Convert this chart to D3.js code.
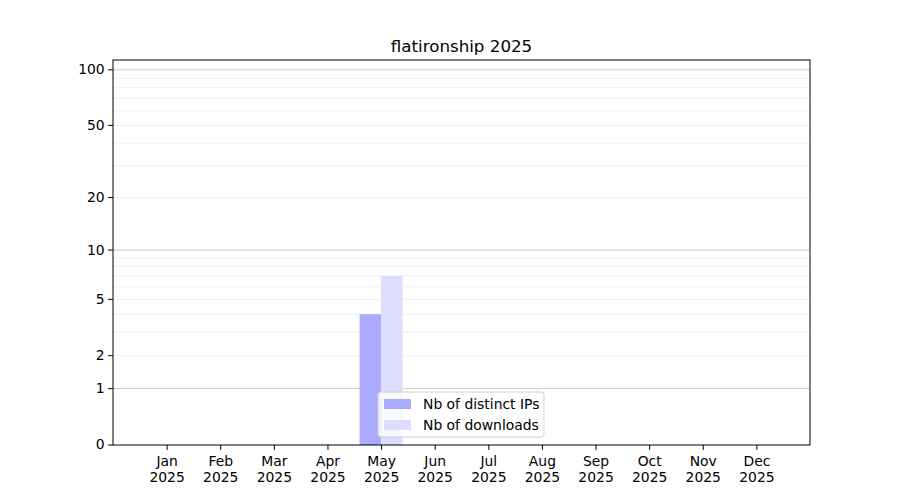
<!DOCTYPE html>
<html>
<head>
<meta charset="utf-8">
<script src="https://cdn.jsdelivr.net/npm/d3@7"></script>
<style>
	body { margin: 0; background: #fff; }
	text { font-family: 'DejaVu Sans', sans-serif; fill: #000; }
	.axis path, .axis line { stroke: #000; stroke-width: 1; }
	.axis text { font-size: 13.9px; }
</style>
</head>
<body>
<script>
// data
var months = ['Jan', 'Feb', 'Mar', 'Apr', 'May', 'Jun', 'Jul', 'Aug', 'Sep', 'Oct', 'Nov', 'Dec'];
var year = '2025';
var distinctIPs = [0, 0, 0, 0, 4, 0, 0, 0, 0, 0, 0, 0];
var downloads = [0, 0, 0, 0, 7, 0, 0, 0, 0, 0, 0, 0];
var yTicks = [0, 1, 2, 5, 10, 20, 50, 100];
var majorGrid = [1, 10, 100];
var minorGrid = [2, 3, 4, 5, 6, 7, 8, 9, 20, 30, 40, 50, 60, 70, 80, 90];
var yMax = 113;
var title = 'flatironship 2025';

var width = 900,
	height = 500,
	margin = { top: 60, right: 90, bottom: 55, left: 113 };

var svg = d3.select('body').append('svg')
	.attr('width', width)
	.attr('height', height);

width = width - margin.left - margin.right;
height = height - margin.top - margin.bottom;

// months sit on integer positions, one unit of padding each side
var xScale = d3.scaleLinear().domain([-1, months.length]).range([0, width]);
// log(1 + x) style y axis
var yScale = d3.scaleLog().domain([1, yMax + 1]).range([height, 0]);
function y(v) { return yScale(v + 1); }

var barW = 0.4;

var g = svg.append('g')
	.attr('transform', 'translate(' + margin.left + ',' + margin.top + ')');

// gridlines
g.selectAll('.minor')
	.data(minorGrid)
	.enter().append('line')
	.attr('x1', 0).attr('x2', width)
	.attr('y1', y).attr('y2', y)
	.attr('stroke', '#ebebeb')
	.attr('stroke-width', 0.8);

g.selectAll('.major')
	.data(majorGrid)
	.enter().append('line')
	.attr('x1', 0).attr('x2', width)
	.attr('y1', y).attr('y2', y)
	.attr('stroke', '#cccccc')
	.attr('stroke-width', 1);

// bars
g.selectAll('.bar-ip')
	.data(distinctIPs)
	.enter().append('rect')
	.attr('x', function(d, i) { return xScale(i - barW); })
	.attr('y', function(d) { return y(d); })
	.attr('width', xScale(barW) - xScale(0))
	.attr('height', function(d) { return height - y(d); })
	.attr('fill', '#aaaaff');

g.selectAll('.bar-dl')
	.data(downloads)
	.enter().append('rect')
	.attr('x', function(d, i) { return xScale(i); })
	.attr('y', function(d) { return y(d); })
	.attr('width', xScale(barW) - xScale(0))
	.attr('height', function(d) { return height - y(d); })
	.attr('fill', '#ddddff');

// x axis, two line labels (month / year)
var xAxis = d3.axisBottom(xScale)
	.tickValues(d3.range(months.length))
	.tickSize(4.9)
	.tickFormat('');

var xg = g.append('g')
	.attr('class', 'axis')
	.attr('transform', 'translate(0,' + height + ')')
	.call(xAxis);
xg.select('.domain').remove();

xg.selectAll('.tick').each(function(d) {
	var t = d3.select(this).append('text')
		.attr('text-anchor', 'middle')
		.attr('y', 21);
	t.append('tspan').attr('x', 0).text(months[d]);
	t.append('tspan').attr('x', 0).attr('dy', 15.8).text(year);
});

// y axis, only the picked tick values
var yg = g.append('g').attr('class', 'axis');
yg.selectAll('.tick')
	.data(yTicks)
	.enter().append('g')
	.attr('class', 'tick')
	.attr('transform', function(d) { return 'translate(0,' + y(d) + ')'; })
	.each(function(d) {
		var t = d3.select(this);
		t.append('line').attr('x1', -4.9).attr('x2', 0);
		t.append('text')
			.attr('x', -8.3)
			.attr('dy', '0.32em')
			.attr('text-anchor', 'end')
			.text(d);
	});

// frame
g.append('rect')
	.attr('width', width)
	.attr('height', height)
	.attr('fill', 'none')
	.attr('stroke', '#000')
	.attr('stroke-width', 1);

// title
svg.append('text')
	.attr('x', margin.left + width / 2)
	.attr('y', margin.top - 8)
	.attr('text-anchor', 'middle')
	.style('font-size', '16.7px')
	.text(title);

// legend
var legendItems = [
	{ label: 'Nb of distinct IPs', color: '#aaaaff' },
	{ label: 'Nb of downloads', color: '#ddddff' }
];
var legend = g.append('g')
	.attr('transform', 'translate(' + (378 - margin.left) + ',' + (392 - margin.top) + ')');
legend.append('rect')
	.attr('width', 166)
	.attr('height', 45)
	.attr('rx', 3)
	.attr('fill', 'rgba(255,255,255,0.8)')
	.attr('stroke', '#d0d0d0');
legend.selectAll('.item')
	.data(legendItems)
	.enter().append('g')
	.attr('transform', function(d, i) { return 'translate(6,' + (7 + i * 21) + ')'; })
	.each(function(d) {
		var it = d3.select(this);
		it.append('rect').attr('width', 27).attr('height', 10).attr('fill', d.color);
		it.append('text')
			.attr('x', 39)
			.attr('y', 5)
			.attr('dy', '0.35em')
			.style('font-size', '13.9px')
			.text(d.label);
	});
</script>
</body>
</html>
